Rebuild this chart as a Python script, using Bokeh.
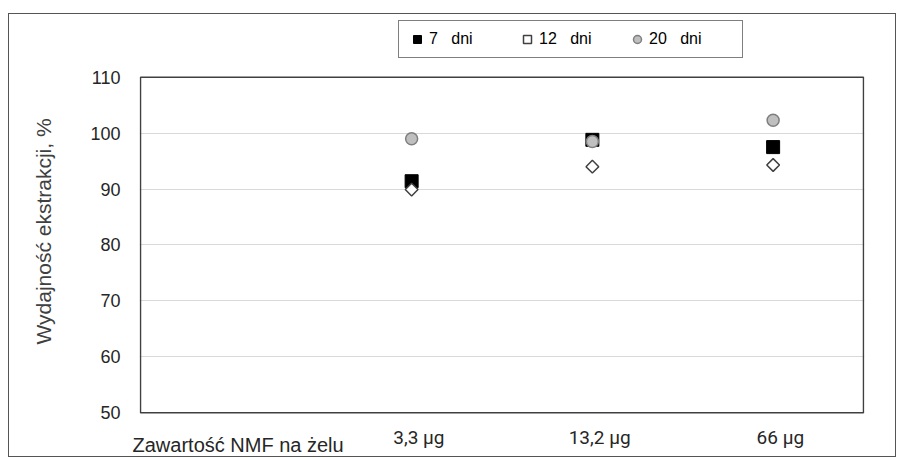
import math
from bokeh.plotting import figure
from bokeh.models import (FixedTicker, Legend, LegendItem, LinearAxis, Range1d,
                          BoxAnnotation)
from bokeh.embed import file_html
from bokeh.resources import INLINE

# ---- data ----
first_label = "Zawartość NMF na żelu"
first_label_pos = [0]
categories = ["3,3 µg", "13,2 µg", "66 µg"]
x_pos = [1, 2, 3]
d7 = [91.4, 98.8, 97.5]
d12 = [89.9, 94.0, 94.3]
d20 = [99.0, 98.5, 102.3]
series_names = ["7   dni", "12   dni", "20   dni"]
y_ticks = [50, 60, 70, 80, 90, 100, 110]

# ---- layout constants ----
X_MIN, X_MAX = -0.5, 3.5
Y_MIN, Y_MAX = 50, 110
PLOT_W, PLOT_H = 721, 337      # pixel size of the boxed plot area
EXTRA_TOP, EXTRA_BOTTOM, EXTRA_SIDE = 59, 32, 1
LABEL_SHIFT = 0.04             # category labels sit slightly right of the marks
ux = (X_MAX - X_MIN) / PLOT_W
uy = (Y_MAX - Y_MIN) / PLOT_H

p = figure(width=888, height=444, output_backend="svg", toolbar_location=None,
           x_range=Range1d(X_MIN - EXTRA_SIDE * ux, X_MAX + EXTRA_SIDE * ux),
           y_range=Range1d(Y_MIN - EXTRA_BOTTOM * uy, Y_MAX + EXTRA_TOP * uy))
p.styles = {"border": "1px solid #555555"}
p.margin = (13, 0, 0, 8)
p.min_border_left = 130
p.min_border_right = 33
p.min_border_top = 4
p.min_border_bottom = 10
p.background_fill_color = "white"
p.border_fill_color = "white"
p.outline_line_color = None

# boxed plot area (50..110)
p.add_layout(BoxAnnotation(left=X_MIN, right=X_MAX, bottom=Y_MIN, top=Y_MAX,
                           fill_alpha=0, line_color="#404040", line_alpha=1.0,
                           line_width=1.5))


def plain(ax):
    ax.axis_line_color = None
    ax.major_tick_line_color = None
    ax.minor_tick_line_color = None
    ax.major_tick_out = 0
    ax.major_tick_in = 0
    ax.major_label_text_color = "#262626"


# category axis
cat_ticks = [x + LABEL_SHIFT for x in x_pos]
p.xaxis.ticker = FixedTicker(ticks=cat_ticks)
p.xaxis.major_label_overrides = {t: c for t, c in zip(cat_ticks, categories)}
plain(p.xaxis[0])
p.xaxis.major_label_text_font = "Roboto"
p.xaxis.major_label_text_font_size = "19px"
p.xaxis.major_label_standoff = -19

# caption axis
cap_ticks = [x + LABEL_SHIFT for x in first_label_pos]
cap_axis = LinearAxis(ticker=FixedTicker(ticks=cap_ticks),
                      major_label_overrides={cap_ticks[0]: first_label})
plain(cap_axis)
cap_axis.major_label_text_font = "Liberation Sans"
cap_axis.major_label_text_font_size = "20px"
cap_axis.major_label_standoff = -18
p.add_layout(cap_axis, "below")

# value axis
p.yaxis.ticker = FixedTicker(ticks=y_ticks)
plain(p.yaxis[0])
p.yaxis.major_label_text_font = "Liberation Sans"
p.yaxis.major_label_text_font_size = "18px"
p.yaxis.major_label_standoff = 19
p.yaxis.axis_label = "Wydajność ekstrakcji, %"
p.yaxis.axis_label_text_font = "Liberation Sans"
p.yaxis.axis_label_text_font_size = "21px"
p.yaxis.axis_label_text_font_style = "normal"
p.yaxis.axis_label_text_color = "#404040"
p.yaxis.axis_label_standoff = 32

p.xgrid.grid_line_color = None
p.ygrid.grid_line_color = "#d9d9d9"
p.ygrid.grid_line_width = 1

r7 = p.scatter(x_pos, d7, marker="square", size=13, fill_color="black",
               line_color="black")
r12 = p.scatter(x_pos, d12, marker="square", size=9, angle=math.pi / 4,
                fill_color="white", line_color="#404040", line_width=1.5)
r20 = p.scatter(x_pos, d20, marker="circle", size=12, fill_color="#bfbfbf",
                line_color="#7f7f7f", line_width=1.5)

legend = Legend(items=[LegendItem(label=series_names[0], renderers=[r7]),
                       LegendItem(label=series_names[1], renderers=[r12]),
                       LegendItem(label=series_names[2], renderers=[r20])],
                orientation="horizontal",
                location=(259, EXTRA_BOTTOM + PLOT_H + 17),
                border_line_color="black", border_line_width=1.5,
                padding=8, spacing=3, glyph_width=20, glyph_height=20,
                label_standoff=2, label_width=85,
                label_text_font="Liberation Sans", label_text_font_size="16px",
                label_text_color="black", margin=0)
p.add_layout(legend, "center")

open("out.html", "w").write(file_html(p, INLINE))
